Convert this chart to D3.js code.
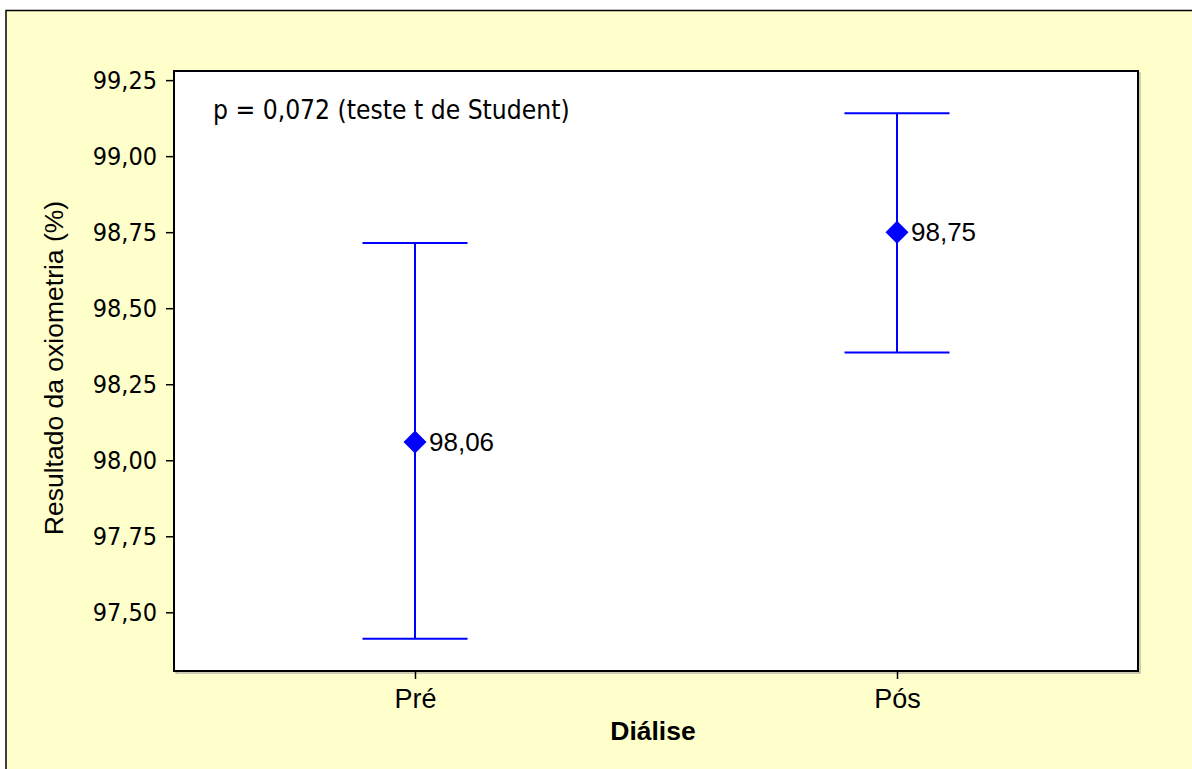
<!DOCTYPE html>
<html>
<head>
<meta charset="utf-8">
<script src="https://cdn.jsdelivr.net/npm/d3@7"></script>
<style>
  html, body { margin: 0; padding: 0; background: #ffffff; }
  svg { display: block; }
</style>
</head>
<body>
<script>
// data
const groups = ["Pré", "Pós"];
const means = [98.06, 98.75];
const lowerCI = [97.413, 98.354];
const upperCI = [98.714, 99.141];
const yTicks = [97.5, 97.75, 98.0, 98.25, 98.5, 98.75, 99.0, 99.25];
const note = "p = 0,072 (teste t de Student)";
const yTitle = "Resultado da oxiometria (%)";
const xTitle = "Diálise";

const width = 1192, height = 769;
const plot = {left: 174, top: 71, right: 1138, bottom: 671};

const tahoma = "'DejaVu Sans Condensed', 'DejaVu Sans', sans-serif";
const arial = "'Liberation Sans', Arial, sans-serif";

const ptBR = d3.formatLocale({decimal: ",", thousands: ".", grouping: [3], currency: ["R$", ""]});
const fmt = ptBR.format(".2f");

const svg = d3.select("body").append("svg")
    .attr("width", width)
    .attr("height", height);

// outer yellow panel, runs off the right and bottom edge
svg.append("rect")
    .attr("x", 6).attr("y", 10.5)
    .attr("width", width + 20).attr("height", height + 20)
    .attr("fill", "#ffffcc")
    .attr("stroke", "#000").attr("stroke-width", 1.5);

const x = d3.scalePoint()
    .domain(groups)
    .range([plot.left, plot.right])
    .padding(0.5);

const y = d3.scaleLinear()
    .domain([97.307, 99.28])
    .range([plot.bottom, plot.top]);

// plot area with a faint shadow
svg.append("rect")
    .attr("x", plot.left + 2).attr("y", plot.top + 2)
    .attr("width", plot.right - plot.left).attr("height", plot.bottom - plot.top)
    .attr("fill", "none").attr("stroke", "#999").attr("stroke-width", 1);
svg.append("rect")
    .attr("x", plot.left).attr("y", plot.top)
    .attr("width", plot.right - plot.left).attr("height", plot.bottom - plot.top)
    .attr("fill", "#fff").attr("stroke", "#000").attr("stroke-width", 2);

// axes
const yAxis = svg.append("g")
    .attr("transform", `translate(${plot.left},0)`)
    .call(d3.axisLeft(y).tickValues(yTicks).tickFormat(fmt).tickSizeInner(8).tickSizeOuter(0).tickPadding(9));
yAxis.select(".domain").remove();
yAxis.selectAll("line").attr("stroke", "#000").attr("stroke-width", 1.5);
yAxis.selectAll("text")
    .attr("font-family", tahoma).attr("font-size", 25).attr("fill", "#000");

const xAxis = svg.append("g")
    .attr("transform", `translate(0,${plot.bottom})`)
    .call(d3.axisBottom(x).tickSizeInner(8).tickSizeOuter(0).tickPadding(10));
xAxis.select(".domain").remove();
xAxis.selectAll("line").attr("stroke", "#000").attr("stroke-width", 1.5);
xAxis.selectAll("text")
    .attr("font-family", arial).attr("font-size", 27).attr("fill", "#000");

// titles
svg.append("text")
    .attr("transform", `translate(63,${(plot.top + plot.bottom) / 2 - 3}) rotate(-90)`)
    .attr("text-anchor", "middle")
    .attr("font-family", arial).attr("font-size", 26.5)
    .text(yTitle);

svg.append("text")
    .attr("x", (plot.left + plot.right) / 2 - 3).attr("y", 740)
    .attr("text-anchor", "middle")
    .attr("font-family", arial).attr("font-size", 26.5).attr("font-weight", "bold")
    .text(xTitle);

svg.append("text")
    .attr("x", 213).attr("y", 119)
    .attr("font-family", tahoma).attr("font-size", 26.2)
    .text(note);

// interval bars
const capHalf = 52.5;
const bars = svg.append("g")
    .attr("stroke", "#0000ff").attr("stroke-width", 2).attr("fill", "none");
groups.forEach((g, i) => {
    const cx = x(g);
    bars.append("line")
        .attr("x1", cx).attr("x2", cx)
        .attr("y1", y(upperCI[i])).attr("y2", y(lowerCI[i]));
    [upperCI[i], lowerCI[i]].forEach(v => {
        bars.append("line")
            .attr("x1", cx - capHalf).attr("x2", cx + capHalf)
            .attr("y1", y(v)).attr("y2", y(v));
    });
});

// means
const diamond = d3.symbol().type(d3.symbolSquare).size(265);
svg.append("g").selectAll("path")
    .data(groups)
    .join("path")
    .attr("d", diamond)
    .attr("transform", (g, i) => `translate(${x(g)},${y(means[i])}) rotate(45)`)
    .attr("fill", "#0000ff");

svg.append("g").selectAll("text")
    .data(groups)
    .join("text")
    .attr("x", g => x(g) + 14)
    .attr("y", (g, i) => y(means[i]) + 9)
    .attr("font-family", arial).attr("font-size", 26)
    .text((g, i) => fmt(means[i]));
</script>
</body>
</html>
